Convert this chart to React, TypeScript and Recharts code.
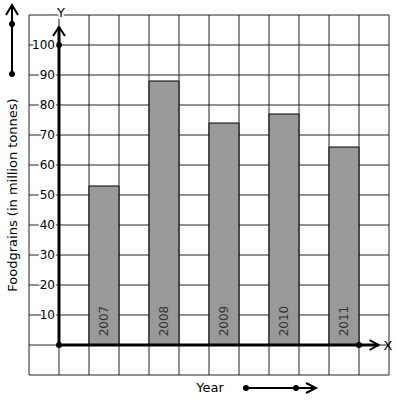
import React from 'react';
import {
  ComposedChart,
  Bar,
  XAxis,
  YAxis,
  CartesianGrid,
  ReferenceLine,
  ReferenceDot,
  LabelList,
} from 'recharts';

const years = ['2007', '2008', '2009', '2010', '2011'];
const production = [53, 88, 74, 77, 66];
// grid column (in cell units from the origin) holding each year's bar
const yearSlots = [1.5, 3.5, 5.5, 7.5, 9.5];
const xTicks = [-1, 0, 1, 2, 3, 4, 5, 6, 7, 8, 9, 10, 11];
const yTicks = [-10, 0, 10, 20, 30, 40, 50, 60, 70, 80, 90, 100, 110];
const yLabels = [10, 20, 30, 40, 50, 60, 70, 80, 90, 100];

const data = years.map((year, i) => ({
  slot: yearSlots[i],
  year,
  value: production[i],
}));

const FONT = '"DejaVu Sans", sans-serif';
const PLOT_LEFT = 29;

const YTick = (props: any) => {
  const v = props.payload?.value;
  if (!yLabels.includes(v)) return <g />;
  return (
    <text
      x={PLOT_LEFT + 26}
      y={props.y}
      textAnchor='end'
      dominantBaseline='central'
      fontSize={12}
      fontFamily={FONT}
      fill='#000'
      stroke='#fff'
      strokeWidth={4}
      paintOrder='stroke'
    >
      {v}
    </text>
  );
};

const arrowLine = (dir: 'up' | 'right') => (props: any) => {
  const { x1, y1, x2, y2 } = props;
  const head =
    dir === 'up'
      ? `M${x2 - 6},${y2 + 9} L${x2},${y2} L${x2 + 6},${y2 + 9}`
      : `M${x2 - 9},${y2 - 5} L${x2},${y2} L${x2 - 9},${y2 + 5}`;
  return (
    <g>
      <line x1={x1} y1={y1} x2={x2} y2={y2} stroke='#000' strokeWidth={3} />
      <path d={head} fill='none' stroke='#000' strokeWidth={2} />
    </g>
  );
};

const YearLabel = (props: any) => {
  const { x, y, width, height, value } = props;
  const cx = x + width / 2;
  const cy = y + height - 24;
  return (
    <text
      x={cx}
      y={cy}
      transform={`rotate(-90 ${cx} ${cy})`}
      textAnchor='middle'
      dominantBaseline='central'
      fontSize={12}
      fontFamily={FONT}
      fill='#333'
    >
      {value}
    </text>
  );
};

const App: React.FC = () => {
  return (
    <div style={{ position: 'absolute', left: 0, top: 0, width: 397, height: 401, background: '#fff' }}>
      <ComposedChart
        width={397}
        height={401}
        data={data}
        margin={{ top: 15, right: 8, left: 0, bottom: 26 }}
      >
        <CartesianGrid
          stroke='#222'
          strokeOpacity={1}
          horizontalValues={yTicks}
          verticalValues={xTicks}
        />
        <XAxis
          dataKey='slot'
          type='number'
          domain={[-1, 11]}
          ticks={xTicks}
          hide
        />
        <YAxis
          type='number'
          domain={[-10, 110]}
          ticks={yTicks}
          width={PLOT_LEFT}
          axisLine={false}
          tickLine={false}
          tick={YTick}
          interval={0}
        />
        <Bar
          dataKey='value'
          barSize={30}
          fill='#999999'
          stroke='#000'
          strokeWidth={1}
          isAnimationActive={false}
        >
          <LabelList dataKey='year' content={<YearLabel />} />
        </Bar>
        <ReferenceLine
          segment={[{ x: 0, y: 0 }, { x: 0, y: 106 }]}
          shape={arrowLine('up')}
        />
        <ReferenceLine
          segment={[{ x: 0, y: 0 }, { x: 10.65, y: 0 }]}
          shape={arrowLine('right')}
        />
        <ReferenceDot x={0} y={0} r={3} fill='#000' stroke='none' />
        <ReferenceDot x={0} y={100} r={3} fill='#000' stroke='none' />
        <ReferenceDot x={10} y={0} r={3} fill='#000' stroke='none' />
      </ComposedChart>
      <svg
        width={397}
        height={401}
        style={{ position: 'absolute', left: 0, top: 0, pointerEvents: 'none' }}
      >
        <text x={61} y={12} textAnchor='middle' dominantBaseline='central' fontSize={13} fontFamily={FONT} fill='#000' stroke='#fff' strokeWidth={4} paintOrder='stroke'>Y</text>
        <text x={388} y={345} textAnchor='middle' dominantBaseline='central' fontSize={13} fontFamily={FONT} fill='#000'>X</text>
        <text
          x={12}
          y={195}
          transform='rotate(-90 12 195)'
          textAnchor='middle'
          dominantBaseline='central'
          fontSize={13}
          fontFamily={FONT}
          fill='#000'
        >
          Foodgrains (in million tonnes)
        </text>
        <text x={210} y={387} textAnchor='middle' dominantBaseline='central' fontSize={13} fontFamily={FONT} fill='#000'>Year</text>
        <line x1={12} y1={74} x2={12} y2={6} stroke='#000' strokeWidth={2} />
        <path d='M6,15 L12,5 L18,15' fill='none' stroke='#000' strokeWidth={2} />
        <circle cx={12} cy={24} r={3} fill='#000' />
        <circle cx={12} cy={74} r={3} fill='#000' />
        <line x1={246} y1={388} x2={315} y2={388} stroke='#000' strokeWidth={2} />
        <path d='M306,383 L316,388 L306,393' fill='none' stroke='#000' strokeWidth={2} />
        <circle cx={246} cy={388} r={3} fill='#000' />
        <circle cx={296} cy={388} r={3} fill='#000' />
      </svg>
    </div>
  );
};

export default App;
